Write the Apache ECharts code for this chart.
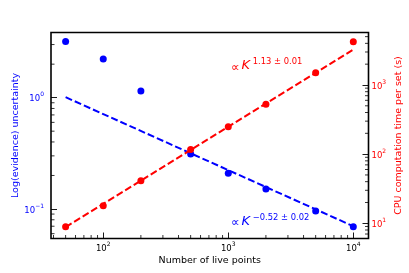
<!DOCTYPE html>
<html>
<head>
<meta charset="utf-8">
<script src="https://cdn.jsdelivr.net/npm/echarts@6/dist/echarts.min.js"></script>
<style>
html,body{margin:0;padding:0;background:#fff;}
#chart{width:409px;height:273px;}
</style>
</head>
<body>
<div id="chart"></div>
<script>
// ---- data ----
var livePoints = [50, 100, 200, 500, 1000, 2000, 5000, 10000];
var evidenceUnc = [3.19, 2.23, 1.15, 0.312, 0.209, 0.151, 0.096, 0.0693];
var cpuTime = [8.93, 17.9, 41.3, 117, 249, 525, 1500, 4230];
var evidFitK = [50, 10000];
var evidFitVal = [1.01, 0.070];
var cpuFitK = [50, 10000];
var cpuFitVal = [8.8, 3250];
var xTickLabels = ['10^2', '10^3', '10^4'];
var leftTickLabels = ['10^-1', '10^0'];
var rightTickLabels = ['10^1', '10^2', '10^3'];
var xName = 'Number of live points';
var leftName = 'Log(evidence) uncertainty';
var rightName = 'CPU computation time per set (s)';
var cpuNote = '1.13 \u00b1 0.01';
var evidNote = '\u22120.52 \u00b1 0.02';

var BLUE = '#0000ff', RED = '#ff0000', FONT = 'DejaVu Sans';
var xMin = 38.2, xMax = 13230;
var lMin = 0.0543, lMax = 3.85;
var rMin = 6.03, rMax = 5740;

function zip(a, b) { return a.map(function (v, i) { return [v, b[i]]; }); }

function minorValues(lo, hi) {
  var out = [];
  for (var e = -3; e <= 5; e++) {
    for (var m = 2; m <= 9; m++) {
      var v = m * Math.pow(10, e);
      if (v > lo && v < hi) out.push(v);
    }
  }
  return out;
}

function supLabel(list) {
  return function (val) {
    var lg = Math.log10(val);
    var r = Math.round(lg);
    if (Math.abs(lg - r) > 1e-6) return '';
    var key = '10^' + r;
    if (list.indexOf(key) < 0) return '';
    return '{b|10}{s|' + String(r).replace('-', '\u2212') + '}';
  };
}
function rich(color) {
  return {
    b: { fontSize: 8.5, fontFamily: FONT, color: color, verticalAlign: 'bottom', lineHeight: 12 },
    s: { fontSize: 6, fontFamily: FONT, color: color, verticalAlign: 'top', lineHeight: 7 }
  };
}

function minorSeries(values, which, yIdx) {
  return {
    type: 'custom', xAxisIndex: 0, yAxisIndex: yIdx, silent: true, clip: false, z: 10,
    data: values.map(function (v) { return [v, v]; }),
    renderItem: function (params, api) {
      var cs = params.coordSys;
      var v = api.value(0);
      var s;
      if (which === 'x') {
        var x = api.coord([v, yIdx === 0 ? 1 : 100])[0];
        s = { x1: x, y1: cs.y + cs.height, x2: x, y2: cs.y + cs.height - 3.5 };
      } else if (which === 'l') {
        var y = api.coord([1000, v])[1];
        s = { x1: cs.x, y1: y, x2: cs.x + 3.5, y2: y };
      } else {
        var y2 = api.coord([1000, v])[1];
        s = { x1: cs.x + cs.width, y1: y2, x2: cs.x + cs.width - 3.5, y2: y2 };
      }
      return { type: 'line', shape: s, style: { stroke: '#000', lineWidth: 0.8 } };
    }
  };
}

var chart = echarts.init(document.getElementById('chart'), null, { renderer: 'canvas' });
chart.setOption({
  animation: false,
  backgroundColor: '#fff',
  grid: { left: 51, right: 40.5, top: 32.5, bottom: 34.5, containLabel: false, outerBoundsMode: 'none',
    show: true, borderColor: '#000', borderWidth: 1.6, backgroundColor: 'transparent' },
  xAxis: {
    type: 'log', logBase: 10, min: xMin, max: xMax,
    name: xName, nameLocation: 'middle', nameGap: 17, nameMoveOverlap: false,
    nameTextStyle: { fontFamily: FONT, fontSize: 9.5, color: '#000' },
    axisLine: { show: false },
    axisTick: { show: true, inside: true, length: 6, lineStyle: { color: '#000', width: 0.9 } },
    splitLine: { show: false },
    axisLabel: { margin: 3, formatter: supLabel(xTickLabels), rich: rich('#000'), showMinLabel: false, showMaxLabel: false }
  },
  yAxis: [{
    type: 'log', logBase: 10, min: lMin, max: lMax, position: 'left',
    name: leftName, nameLocation: 'middle', nameGap: 30, nameRotate: 90, nameMoveOverlap: false,
    nameTextStyle: { fontFamily: FONT, fontSize: 9.5, color: BLUE },
    axisLine: { show: false },
    axisTick: { show: true, inside: true, length: 6, lineStyle: { color: '#000', width: 0.9 } },
    splitLine: { show: false },
    axisLabel: { margin: 7, formatter: supLabel(leftTickLabels), rich: rich(BLUE), showMinLabel: false, showMaxLabel: false }
  }, {
    type: 'log', logBase: 10, min: rMin, max: rMax, position: 'right',
    name: rightName, nameLocation: 'middle', nameGap: 25, nameRotate: 90, nameMoveOverlap: false,
    nameTextStyle: { fontFamily: FONT, fontSize: 9.5, color: RED },
    axisLine: { show: false },
    axisTick: { show: true, inside: true, length: 6, lineStyle: { color: '#000', width: 0.9 } },
    splitLine: { show: false },
    axisLabel: { margin: 3, formatter: supLabel(rightTickLabels), rich: rich(RED), showMinLabel: false, showMaxLabel: false }
  }],
  series: [
    { type: 'line', yAxisIndex: 0, data: zip(evidFitK, evidFitVal), showSymbol: false, symbol: 'none',
      lineStyle: { color: BLUE, width: 2, type: [7, 3] }, z: 2 },
    { type: 'scatter', yAxisIndex: 0, data: zip(livePoints, evidenceUnc), symbolSize: 7,
      itemStyle: { color: BLUE, opacity: 1 }, z: 3 },
    { type: 'line', yAxisIndex: 1, data: zip(cpuFitK, cpuFitVal), showSymbol: false, symbol: 'none',
      lineStyle: { color: RED, width: 2, type: [7, 3] }, z: 4 },
    { type: 'scatter', yAxisIndex: 1, data: zip(livePoints, cpuTime), symbolSize: 7,
      itemStyle: { color: RED, opacity: 1 }, z: 5 },
    minorSeries(minorValues(xMin, xMax), 'x', 0),
    minorSeries(minorValues(lMin, lMax), 'l', 0),
    minorSeries(minorValues(rMin, rMax), 'r', 1)
  ],
  graphic: [
    { type: 'text', left: 231, top: 62, style: { text: '\u221d', fontFamily: FONT, fontSize: 12, fill: RED } },
    { type: 'text', left: 241.5, top: 59.5, style: { text: 'K', fontFamily: FONT, fontStyle: 'italic', fontSize: 13, fill: RED } },
    { type: 'text', left: 252.7, top: 57.5, style: { text: cpuNote, fontFamily: FONT, fontSize: 8.4, fill: RED } },
    { type: 'text', left: 231, top: 216.5, style: { text: '\u221d', fontFamily: FONT, fontSize: 12, fill: BLUE } },
    { type: 'text', left: 241.5, top: 215, style: { text: 'K', fontFamily: FONT, fontStyle: 'italic', fontSize: 13, fill: BLUE } },
    { type: 'text', left: 252.7, top: 213.5, style: { text: evidNote, fontFamily: FONT, fontSize: 8.4, fill: BLUE } }
  ]
});
</script>
</body>
</html>
